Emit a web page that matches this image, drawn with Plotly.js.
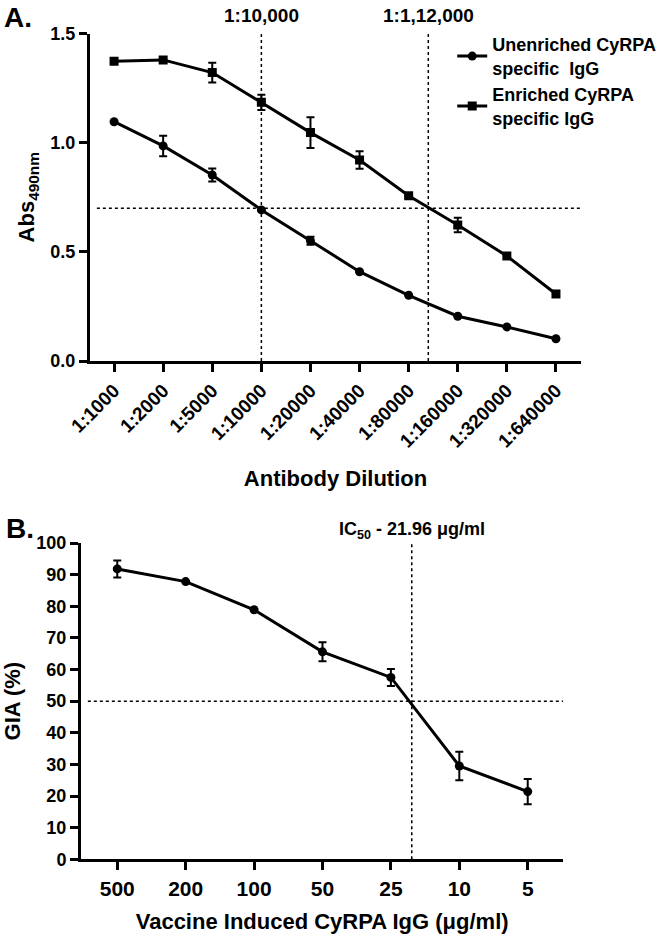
<!DOCTYPE html>
<html>
<head>
<meta charset="utf-8">
<script src="https://cdn.plot.ly/plotly-3.0.1.min.js"></script>
<style>html,body{margin:0;padding:0;background:#fff;}#chart{width:666px;height:936px;}</style>
</head>
<body>
<div id="chart"></div>
<script>
// ---------- Panel A data ----------
const dilutions = ['1:1000','1:2000','1:5000','1:10000','1:20000','1:40000','1:80000','1:160000','1:320000','1:640000'];
const unenriched    = [1.096, 0.985, 0.852, 0.692, 0.551, 0.409, 0.301, 0.205, 0.156, 0.102];
const unenrichedErr = [0.000, 0.047, 0.030, 0.000, 0.018, 0.000, 0.000, 0.000, 0.000, 0.000];
const enriched      = [1.373, 1.379, 1.321, 1.185, 1.046, 0.921, 0.757, 0.623, 0.481, 0.307];
const enrichedErr   = [0.000, 0.000, 0.045, 0.035, 0.070, 0.040, 0.000, 0.033, 0.000, 0.000];
const seriesNamesA  = ['Unenriched CyRPA<br>specific  IgG', 'Enriched CyRPA<br>specific IgG'];
const absCutoff = 0.7;                       // Abs490 threshold
const endpointLabels = ['1:10,000', '1:1,12,000'];
const endpointPos = [3, 6.4];                // category-index position of endpoint titres

// ---------- Panel B data ----------
const concentrations = ['500','200','100','50','25','10','5'];
const gia    = [91.8, 87.8, 78.9, 65.6, 57.5, 29.5, 21.4];
const giaErr = [2.7, 0.0, 0.0, 3.0, 2.7, 4.5, 4.0];
const giaHalf = 50;
const ic50Label = 'IC<sub>50</sub> - 21.96 \u03bcg/ml';
const ic50Pos = 4.305;                       // category-index position of IC50

const FONT = 'Liberation Sans, Arial, Helvetica, sans-serif';
const bold = (size) => ({family: FONT, size: size, color: '#000', weight: 'bold'});

const traces = [
  {
    x: dilutions, y: unenriched, name: seriesNamesA[0],
    type: 'scatter', mode: 'lines+markers', xaxis: 'x', yaxis: 'y',
    line: {color: '#000', width: 3},
    marker: {symbol: 'circle', size: 9, color: '#000'},
    error_y: {type: 'data', array: unenrichedErr, visible: true, color: '#000', thickness: 2, width: 4}
  },
  {
    x: dilutions, y: enriched, name: seriesNamesA[1],
    type: 'scatter', mode: 'lines+markers', xaxis: 'x', yaxis: 'y',
    line: {color: '#000', width: 3},
    marker: {symbol: 'square', size: 9, color: '#000'},
    error_y: {type: 'data', array: enrichedErr, visible: true, color: '#000', thickness: 2, width: 4}
  },
  {
    x: concentrations, y: gia, name: 'GIA', showlegend: false,
    type: 'scatter', mode: 'lines+markers', xaxis: 'x2', yaxis: 'y2',
    line: {color: '#000', width: 3},
    marker: {symbol: 'circle', size: 9, color: '#000'},
    error_y: {type: 'data', array: giaErr, visible: true, color: '#000', thickness: 2, width: 4}
  }
];

const dotted = {color: '#000', width: 1.5, dash: 'dot'};
const shapes = [
  {type: 'line', xref: 'x', yref: 'y', x0: -0.35, x1: 9.51, y0: absCutoff, y1: absCutoff, line: dotted, layer: 'below'},
  {type: 'line', xref: 'x', yref: 'y', x0: endpointPos[0], x1: endpointPos[0], y0: 0, y1: 1.5, line: dotted, layer: 'below'},
  {type: 'line', xref: 'x', yref: 'y', x0: endpointPos[1], x1: endpointPos[1], y0: 0, y1: 1.5, line: dotted, layer: 'below'},
  {type: 'line', xref: 'x2', yref: 'y2', x0: -0.43, x1: 6.52, y0: giaHalf, y1: giaHalf, line: dotted, layer: 'below'},
  {type: 'line', xref: 'x2', yref: 'y2', x0: ic50Pos, x1: ic50Pos, y0: 0, y1: 100, line: dotted, layer: 'below'}
];

const annotations = [
  {text: 'A.', xref: 'paper', yref: 'paper', x: 0.003, y: (936 - 17) / 936, xanchor: 'left', yanchor: 'middle', showarrow: false, font: bold(28)},
  {text: 'B.', xref: 'paper', yref: 'paper', x: 0.006, y: (936 - 528) / 936, xanchor: 'left', yanchor: 'middle', showarrow: false, font: bold(28)},
  {text: endpointLabels[0], xref: 'x', yref: 'paper', x: endpointPos[0], y: (936 - 15) / 936, xanchor: 'center', yanchor: 'middle', showarrow: false, font: bold(19)},
  {text: endpointLabels[1], xref: 'x', yref: 'paper', x: endpointPos[1], y: (936 - 15) / 936, xanchor: 'center', yanchor: 'middle', showarrow: false, font: bold(19)},
  {text: ic50Label, xref: 'x2', yref: 'paper', x: ic50Pos, y: (936 - 530) / 936, xanchor: 'center', yanchor: 'middle', showarrow: false, font: bold(18)}
];

const axisCommon = {
  showline: true, linecolor: '#000', linewidth: 3, showgrid: false, zeroline: false,
  ticks: 'outside', ticklen: 8, tickwidth: 3, tickcolor: '#000', automargin: false, fixedrange: true
};

const layout = {
  width: 666, height: 936,
  margin: {l: 0, r: 0, t: 0, b: 0},
  paper_bgcolor: '#fff', plot_bgcolor: '#fff',
  font: {family: FONT, color: '#000'},
  showlegend: true,
  legend: {x: 0.679, y: 0.972, xanchor: 'left', yanchor: 'top', font: bold(18), bgcolor: 'rgba(0,0,0,0)', tracegroupgap: 0},
  xaxis: Object.assign({}, axisCommon, {
    domain: [90 / 666, 581 / 666], anchor: 'y', type: 'category',
    categoryorder: 'array', categoryarray: dilutions, range: [-0.49, 9.51],
    tickangle: -45, tickfont: bold(19),
    title: {text: 'Antibody Dilution', font: bold(22), standoff: 20}
  }),
  yaxis: Object.assign({}, axisCommon, {
    domain: [(936 - 361) / 936, (936 - 33.5) / 936], anchor: 'x',
    range: [0, 1.5], dtick: 0.5, tick0: 0, tickformat: '.1f', tickfont: bold(18),
    title: {text: 'Abs<sub>490nm</sub>', font: bold(22), standoff: 10}
  }),
  xaxis2: Object.assign({}, axisCommon, {
    domain: [81 / 666, 563.3 / 666], anchor: 'y2', type: 'category',
    categoryorder: 'array', categoryarray: concentrations, range: [-0.53, 6.52],
    tickangle: 0, tickfont: bold(21),
    title: {text: 'Vaccine Induced CyRPA IgG (\u03bcg/ml)', font: bold(22), standoff: 16}
  }),
  yaxis2: Object.assign({}, axisCommon, {
    domain: [(936 - 859.3) / 936, (936 - 543) / 936], anchor: 'x2',
    range: [0, 100], dtick: 10, tick0: 0, tickfont: bold(18),
    title: {text: 'GIA (%)', font: bold(22), standoff: 10}
  }),
  shapes: shapes,
  annotations: annotations
};

Plotly.newPlot('chart', traces, layout, {displayModeBar: false, staticPlot: true});
</script>
</body>
</html>
